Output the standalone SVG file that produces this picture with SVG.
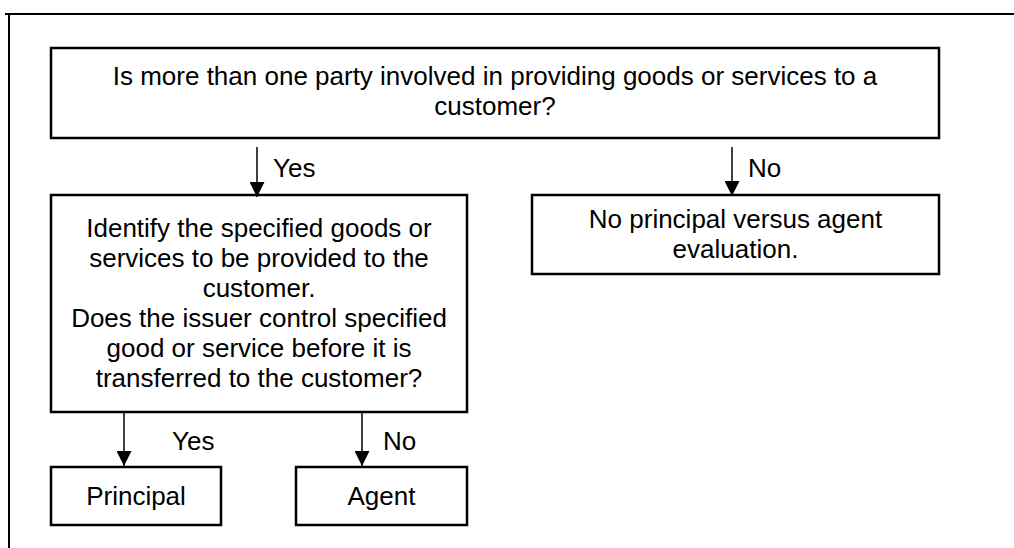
<svg xmlns="http://www.w3.org/2000/svg" width="1014" height="548" viewBox="0 0 1014 548">
<defs>
<style>
.box{fill:#fff;stroke:#000;stroke-width:2.5}
.t{font-family:"Liberation Sans",Arial,sans-serif;font-size:26px;fill:#000}
.c{text-anchor:middle}
.conn line{stroke:#000;stroke-width:1.5}
.frame{stroke:#000;stroke-width:2;fill:none}
</style>
<marker id="ah" markerUnits="userSpaceOnUse" markerWidth="15" markerHeight="15" refX="15" refY="7.5" orient="auto" viewBox="0 0 15 15">
<path d="M0,0 L15,7.5 L0,15 z" fill="#000"/>
</marker>
</defs>
<rect width="1014" height="548" fill="#fff"/>
<path class="frame" d="M5,14 H1014 M9,14 V548"/>
<g id="q1">
<rect class="box" x="51" y="48" width="888" height="90"/>
<text class="t c" x="495" y="85">Is more than one party involved in providing goods or services to a</text>
<text class="t c" x="495" y="115">customer?</text>
</g>
<g id="identify">
<rect class="box" x="51" y="195" width="416" height="217"/>
<text class="t c" x="259" y="237">Identify the specified goods or</text>
<text class="t c" x="259" y="267">services to be provided to the</text>
<text class="t c" x="259" y="297">customer.</text>
<text class="t c" x="259" y="327">Does the issuer control specified</text>
<text class="t c" x="259" y="357">good or service before it is</text>
<text class="t c" x="259" y="387">transferred to the customer?</text>
</g>
<g id="noeval">
<rect class="box" x="532" y="195" width="407" height="79"/>
<text class="t c" x="735.5" y="228">No principal versus agent</text>
<text class="t c" x="735.5" y="258">evaluation.</text>
</g>
<g id="principal">
<rect class="box" x="51" y="467" width="170" height="58"/>
<text class="t c" x="136" y="505">Principal</text>
</g>
<g id="agent">
<rect class="box" x="296" y="467" width="171" height="58"/>
<text class="t c" x="381.5" y="505">Agent</text>
</g>
<g id="connectors" class="conn">
<line x1="257" y1="147" x2="257" y2="197" marker-end="url(#ah)"/>
<line x1="732" y1="147" x2="732" y2="196" marker-end="url(#ah)"/>
<line x1="124" y1="413" x2="124" y2="466" marker-end="url(#ah)"/>
<line x1="362" y1="413" x2="362" y2="466" marker-end="url(#ah)"/>
<text class="t" x="273" y="177">Yes</text>
<text class="t" x="748" y="177">No</text>
<text class="t" x="172" y="450">Yes</text>
<text class="t" x="383" y="450">No</text>
</g>
</svg>
